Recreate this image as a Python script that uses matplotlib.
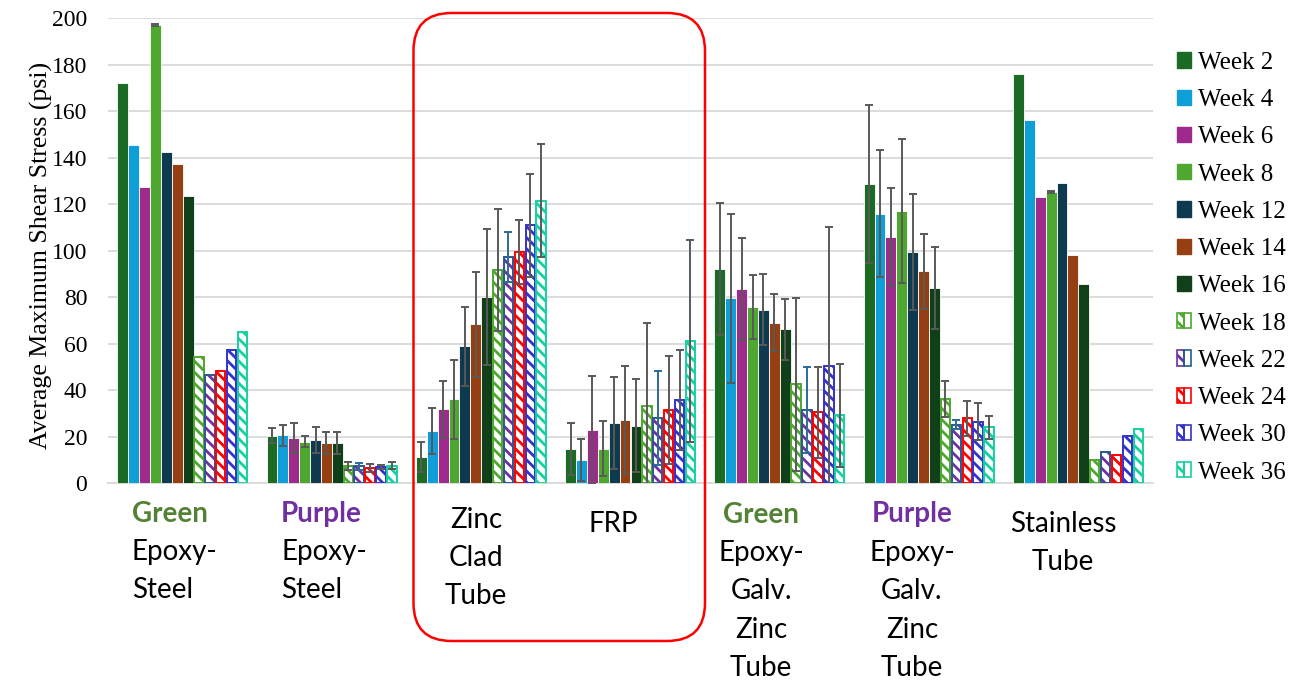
import matplotlib
matplotlib.use("Agg")
import matplotlib.pyplot as plt
import numpy as np
from matplotlib.patches import FancyBboxPatch, Patch
from matplotlib.transforms import IdentityTransform
from matplotlib.legend_handler import HandlerTuple

plt.rcParams['font.family'] = ['Liberation Serif', 'DejaVu Serif']
plt.rcParams['hatch.linewidth'] = 2.0

# ---------------- data ----------------
groups = ["Green Epoxy-Steel", "Purple Epoxy-Steel", "Zinc Clad Tube", "FRP",
          "Green Epoxy-Galv. Zinc Tube", "Purple Epoxy-Galv. Zinc Tube", "Stainless Tube"]
weeks = ["Week 2", "Week 4", "Week 6", "Week 8", "Week 12", "Week 14", "Week 16",
         "Week 18", "Week 22", "Week 24", "Week 30", "Week 36"]

week2 = [172, 20.4, 11.2, 14.5, 92, 128.6, 175.8]
week4 = [145.5, 20.6, 22.4, 9.9, 79.4, 115.8, 156]
week6 = [127.2, 19.4, 31.7, 22.7, 83.6, 105.7, 123]
week8 = [197, 17.8, 36, 14.8, 75.7, 117.1, 125.2]
week12 = [142.2, 18.4, 58.8, 25.8, 74.6, 99.5, 129.2]
week14 = [137, 17.1, 68.2, 27, 69, 91, 98.2]
week16 = [123.6, 17.3, 80, 24.7, 66.1, 83.9, 85.7]
week18 = [54.2, 7.2, 91.6, 33.3, 42.4, 36, 10]
week22 = [46.6, 7.2, 97.3, 27.8, 31.3, 25.1, 13.2]
week24 = [48.3, 6.3, 99.4, 31.5, 30.4, 27.8, 11.9]
week30 = [57.3, 6.9, 110.8, 35.6, 50.3, 26.4, 20.4]
week36 = [65, 7.5, 121.4, 61.2, 29.1, 24, 23.2]

err2 = [0, 3.1, 6.3, 11.2, 28.3, 34, 0]
err4 = [0, 4.5, 10, 8.9, 36.3, 27.4, 0]
err6 = [0, 6.5, 12.3, 23.2, 21.9, 21, 0]
err8 = [0.5, 2.3, 17, 11.9, 13.8, 30.9, 0.5]
err12 = [0, 5.6, 17, 19.8, 15.3, 24.9, 0]
err14 = [0, 4.8, 22.7, 23.2, 12.4, 16.1, 0]
err16 = [0, 4.7, 29.4, 20, 13, 17.5, 0]
err18 = [0, 1.7, 26.4, 35.5, 37.2, 7.7, 0]
err22 = [0, 1.5, 10.8, 20.2, 18.6, 2, 0]
err24 = [0, 1.7, 13.7, 23.3, 19.5, 7.5, 0]
err30 = [0, 0.7, 22.2, 21.5, 59.9, 8.1, 0]
err36 = [0, 1.4, 24.3, 43.5, 22.1, 5, 0]

values = [week2, week4, week6, week8, week12, week14, week16,
          week18, week22, week24, week30, week36]
errors = [err2, err4, err6, err8, err12, err14, err16,
          err18, err22, err24, err30, err36]

colors = ["#1b6b25", "#0e9fd8", "#9e2a8e", "#4ea72e", "#0e3a4f", "#963f12", "#10401a",
          "#4ea72e", "#7030a0", "#ff0000", "#3333cc", "#14d1a0"]
edge_override = {8: "#1f5f8f"}
hatched = [False] * 7 + [True] * 5
err_colors = ["#595959"] * 12
err_colors[8] = "#2e6a96"

# ---------------- figure ----------------
W, H = 1301, 682
fig = plt.figure(figsize=(W / 100, H / 100), dpi=100)

ax_l, ax_r, ax_t, ax_b = 108, 1153, 18, 483
ax = fig.add_axes([ax_l / W, 1 - ax_b / H, (ax_r - ax_l) / W, (ax_b - ax_t) / H])

x = np.arange(len(groups))
bw = 0.073
HATCH = "\\\\\\"
handles = []
for j, (vals, errs) in enumerate(zip(values, errors)):
    pos = x + (j - 5.5) * bw
    c = colors[j]
    if hatched[j]:
        ax.bar(pos, vals, width=bw * 0.86, facecolor="white", edgecolor=c,
               hatch=HATCH, linewidth=1.2, zorder=3)
        ec = edge_override.get(j, c)
        ax.bar(pos, vals, width=bw * 0.86, facecolor="none", edgecolor=ec,
               linewidth=1.2, zorder=3)
        h1 = Patch(facecolor="white", edgecolor=c, hatch=HATCH, linewidth=1.2)
        h2 = Patch(facecolor="none", edgecolor=ec, linewidth=1.2)
        handles.append((h1, h2))
    else:
        ax.bar(pos, vals, width=bw, facecolor=c, edgecolor="white", linewidth=0.6, zorder=3)
        handles.append(Patch(facecolor=c, edgecolor=c))
    sel = [k for k in range(len(vals)) if errs[k] > 0]
    if sel:
        ax.errorbar(pos[sel], np.array(vals)[sel], yerr=np.array(errs)[sel], fmt="none",
                    ecolor=err_colors[j], elinewidth=1.4, capsize=3, capthick=1.4, zorder=4)

ax.set_xlim(-0.5, len(groups) - 0.5)
ax.set_ylim(0, 200)
ax.set_yticks(np.arange(0, 201, 20))
ax.set_xticks([])
ax.grid(axis="y", color="#d9d9d9", linewidth=1.3, zorder=0)
ax.set_axisbelow(True)
for s in ["top", "right", "left"]:
    ax.spines[s].set_visible(False)
ax.spines["bottom"].set_color("#d9d9d9")
ax.spines["bottom"].set_linewidth(1.3)
ax.tick_params(axis="y", length=0, pad=15, labelsize=17)
ax.set_ylabel("Average Maximum Shear Stress (psi)", fontsize=18.6, labelpad=1)
ax.yaxis.set_label_coords(-0.053, 0.49)

leg = ax.legend(handles, weeks, loc="center left", bbox_to_anchor=(1.0015, 0.463),
                frameon=False, prop={"size": 18},
                handlelength=0.55, handleheight=0.55, handletextpad=0.3,
                labelspacing=0.61,
                handler_map={tuple: HandlerTuple(ndivide=None, pad=0)})

# ---------------- category labels ----------------
def ftext(px, py, s, ha="left", **kw):
    fig.text(px / W, 1 - py / H, s, ha=ha, va="center", fontfamily="Lato",
             fontsize=20, **kw)

green_c = "#548235"
purple_c = "#7030a0"
# group 1
ftext(132, 514, "Green", color=green_c, fontweight="bold")
ftext(132, 552, "Epoxy-")
ftext(132, 590, "Steel")
# group 2
ftext(281, 514, "Purple", color=purple_c, fontweight="bold")
ftext(281, 552, "Epoxy-")
ftext(281, 590, "Steel")
# group 3
ftext(476, 520, "Zinc", ha="center")
ftext(476, 558, "Clad", ha="center")
ftext(476, 596, "Tube", ha="center")
# group 4
ftext(613, 524, "FRP", ha="center")
# group 5
ftext(761, 515, "Green", ha="center", color=green_c, fontweight="bold")
for k, s in enumerate(["Epoxy-", "Galv.", "Zinc", "Tube"]):
    ftext(761, 553 + 38.3 * k, s, ha="center")
# group 6
ftext(912, 514, "Purple", ha="center", color=purple_c, fontweight="bold")
for k, s in enumerate(["Epoxy-", "Galv.", "Zinc", "Tube"]):
    ftext(912, 553 + 38.3 * k, s, ha="center")
# group 7
ftext(1063, 524, "Stainless", ha="center")
ftext(1063, 562, "Tube", ha="center")

# ---------------- red rounded box ----------------
x0, x1, y0, y1 = 413.5, 705, 13, 641
box = FancyBboxPatch((x0, H - y1), x1 - x0, y1 - y0,
                     boxstyle="round,pad=0,rounding_size=38",
                     transform=IdentityTransform(), fill=False,
                     edgecolor="#ff0000", linewidth=1.8, zorder=10)
fig.patches.append(box)

fig.savefig("out.png", dpi=100)
